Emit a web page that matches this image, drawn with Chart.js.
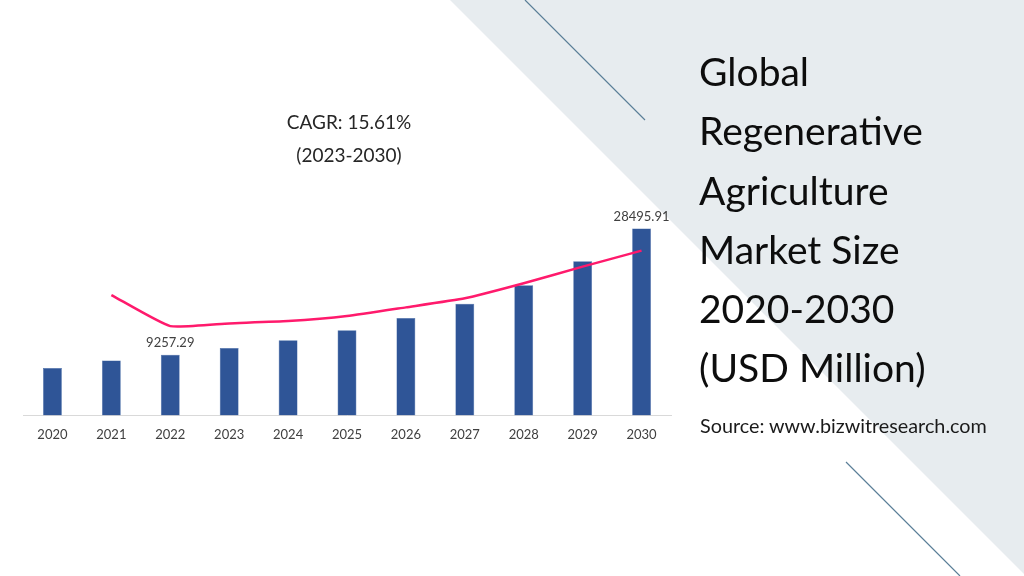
<!DOCTYPE html>
<html>
<head>
<meta charset="utf-8">
<script src="https://cdn.jsdelivr.net/npm/chart.js@4.4.1/dist/chart.umd.min.js"></script>
<style>
  html, body { margin: 0; padding: 0; background: #fff; }
  #wrap { position: relative; width: 1024px; height: 576px; overflow: hidden; font-family: Lato, sans-serif; }
  #chart { position: absolute; left: 0; top: 0; }
  .txt { position: absolute; white-space: nowrap; }
  #cagr { left: 249px; top: 105px; width: 200px; text-align: center; font-size: 19px; line-height: 33px; color: #262626; }
  #title { left: 699px; top: 42px; font-size: 39px; line-height: 59.3px; color: #0d0d0d; }
  #source { left: 700px; top: 413px; font-size: 19.8px; color: #1a1a1a; }
</style>
</head>
<body>
<div id="wrap">
  <canvas id="chart" width="1024" height="576"></canvas>
  <div class="txt" id="cagr">CAGR: 15.61%<br>(2023-2030)</div>
  <div class="txt" id="title">Global<br>Regenerative<br>Agriculture<br>Market Size<br>2020-2030<br>(USD Million)</div>
  <div class="txt" id="source">Source: www.bizwitresearch.com</div>
</div>
<script>
const years = ['2020', '2021', '2022', '2023', '2024', '2025', '2026', '2027', '2028', '2029', '2030'];
const marketSize = [7235, 8367, 9257.29, 10294, 11472, 13002, 14837, 17025, 19839, 23510, 28495.91];
const trendLine = [null, 18355, 13613, 14026, 14378, 15143, 16474, 17850, 20145, 22684, 25131];
const labelledYears = ['2022', '2030'];

// slide background: grey panel + two thin diagonal strokes
const slideBackground = {
    id: 'slideBackground',
    beforeDraw(chart) {
        const c = chart.ctx;
        c.save();
        c.fillStyle = '#ffffff';
        c.fillRect(0, 0, 1024, 576);
        c.fillStyle = '#e7ecef';
        c.beginPath();
        c.moveTo(450, 0);
        c.lineTo(1024, 0);
        c.lineTo(1024, 574);
        c.closePath();
        c.fill();
        c.strokeStyle = '#5b7f98';
        c.lineWidth = 1.2;
        c.beginPath();
        c.moveTo(525, 0);
        c.lineTo(645, 120);
        c.moveTo(846, 462);
        c.lineTo(960, 576);
        c.stroke();
        c.restore();
    }
};

// value labels above selected bars
const barLabels = {
    id: 'barLabels',
    afterDatasetsDraw(chart) {
        const c = chart.ctx;
        const meta = chart.getDatasetMeta(1);
        c.save();
        c.font = '13px Lato, sans-serif';
        c.fillStyle = '#404040';
        c.textAlign = 'center';
        c.textBaseline = 'bottom';
        years.forEach((y, i) => {
            if (!labelledYears.includes(y)) return;
            const bar = meta.data[i];
            c.fillText(marketSize[i].toFixed(2), bar.x, bar.y - 5);
        });
        c.restore();
    }
};

new Chart(document.getElementById('chart'), {
    type: 'bar',
    data: {
        labels: years,
        datasets: [{
            type: 'line',
            label: 'Trend',
            data: trendLine,
            borderColor: '#ff1a6c',
            borderWidth: 2.5,
            pointRadius: 0,
            tension: 0.15,
            order: 0
        }, {
            label: 'Market Size',
            data: marketSize,
            backgroundColor: '#2f5597',
            borderColor: '#3d63a3',
            borderWidth: 0.5,
            barPercentage: 0.32,
            categoryPercentage: 1,
            order: 1
        }]
    },
    options: {
        responsive: false,
        animation: false,
        layout: {
            padding: { left: 23, right: 353, top: 199, bottom: 121 }
        },
        plugins: {
            legend: { display: false },
            tooltip: { enabled: false }
        },
        scales: {
            x: {
                grid: { display: false, drawTicks: false },
                border: { display: true, color: '#d9d9d9', width: 1 },
                ticks: {
                    color: '#404040',
                    font: { family: 'Lato, sans-serif', size: 13 },
                    padding: 12,
                    maxRotation: 0
                }
            },
            y: {
                display: false,
                min: 0,
                max: 33000
            }
        }
    },
    plugins: [slideBackground, barLabels]
});
</script>
</body>
</html>
